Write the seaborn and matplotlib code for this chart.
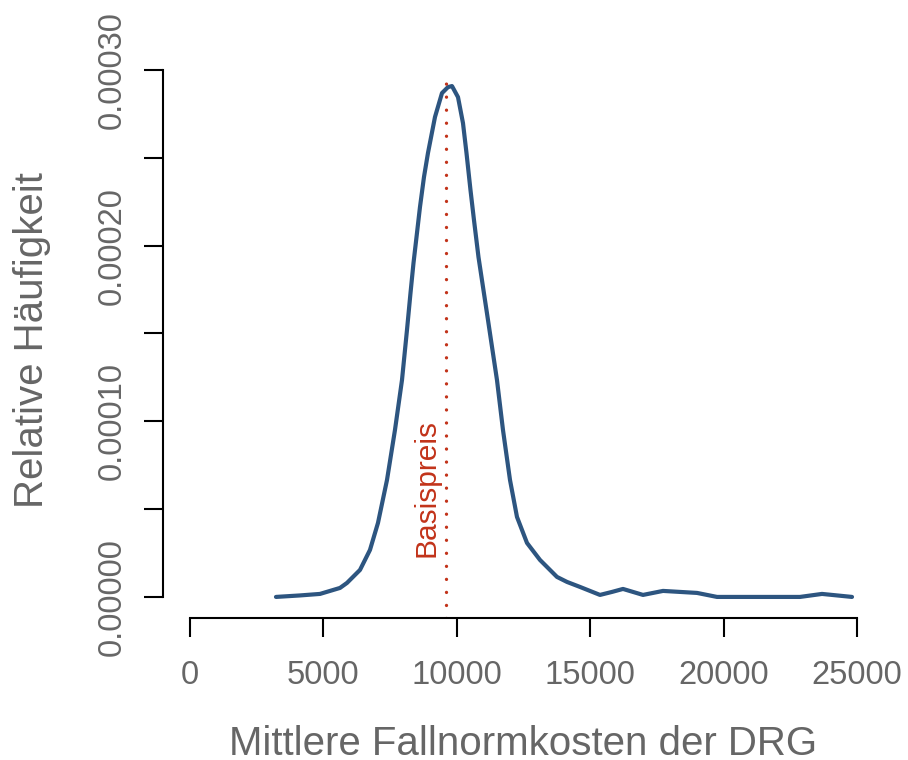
import numpy as np
import pandas as pd
import matplotlib
matplotlib.use('Agg')
import matplotlib.pyplot as plt
import seaborn as sns

# Dichtekurve: mittlere Fallnormkosten und relative Häufigkeit
kosten = [3223, 4123, 4872, 5622, 5884, 6372, 6746, 7046, 7384, 7683,
          7946, 8133, 8265, 8377, 8490, 8620, 8770, 8920, 9183, 9445,
          9670, 9820, 10045, 10232, 10363, 10513, 10644, 10813, 10982, 11169,
          11281, 11506, 11731, 11994, 12256, 12631, 13118, 13755, 14130, 14617,
          15367, 15817, 16229, 16979, 17729, 19003, 19753, 22863, 23688, 24812]
dichte_e5 = [0.0, 0.085, 0.171, 0.512, 0.797, 1.537, 2.675, 4.213, 6.660, 9.507,
             12.35, 15.20, 17.31, 19.01, 20.49, 22.20, 23.91, 25.28, 27.33, 28.69,
             29.03, 29.09, 28.46, 26.98, 25.28, 23.17, 21.46, 19.35, 17.65, 15.77,
             14.63, 12.35, 9.507, 6.660, 4.554, 3.074, 2.106, 1.139, 0.854, 0.569,
             0.114, 0.285, 0.455, 0.114, 0.342, 0.228, 0.0, 0.0, 0.171, 0.0]
basispreis = 9580

x_ticks = [0, 5000, 10000, 15000, 20000, 25000]
y_ticks = [0.0, 0.00005, 0.0001, 0.00015, 0.0002, 0.00025, 0.0003]
y_ticklabels = ['0.00000', '', '0.00010', '', '0.00020', '', '0.00030']

df = pd.DataFrame({'kosten': kosten, 'dichte': np.array(dichte_e5) * 1e-5})

sns.set_theme(style='white')
plt.rcParams['font.family'] = ['Liberation Sans', 'DejaVu Sans']

grau = '#666666'
blau = '#2D5580'
rot = '#C2331A'

fig = plt.figure(figsize=(9.08, 7.6), dpi=100)
ax = fig.add_axes([163.3 / 908, 142 / 760, 720.4 / 908, 569 / 760])

sns.lineplot(data=df, x='kosten', y='dichte', color=blau, linewidth=3,
             estimator=None, ax=ax)
ax.lines[0].set_solid_joinstyle('round')

ax.axvline(basispreis, ymin=0.0, ymax=0.954, color=rot, linewidth=2.4,
           linestyle=(0, (0.01, 3.9)), dash_capstyle='round')
ax.text(basispreis - 700, 0.0000228, 'Basispreis', rotation=90,
        ha='center', va='bottom', color=rot, fontsize=21.5)

ax.set_xlim(-1000, 26000)
ax.set_ylim(-0.000012, 0.000312)

for s in ['top', 'right']:
    ax.spines[s].set_visible(False)
ax.spines['left'].set_bounds(0, 0.0003)
ax.spines['bottom'].set_bounds(0, 25000)
for s in ['left', 'bottom']:
    ax.spines[s].set_color('black')
    ax.spines[s].set_linewidth(1.5)

ax.set_xticks(x_ticks)
ax.set_xticklabels([str(t) for t in x_ticks])
ax.set_yticks(y_ticks)
ax.set_yticklabels(y_ticklabels)

ax.tick_params(axis='both', direction='out', length=14, width=1.5,
               color='black', labelcolor=grau, labelsize=23.5)
ax.tick_params(axis='x', pad=16, bottom=True)
ax.tick_params(axis='y', pad=11.5, left=True, labelrotation=90)
for lbl in ax.get_yticklabels():
    lbl.set_va('center')

ax.set_xlabel('Mittlere Fallnormkosten der DRG', fontsize=29, color=grau)
ax.set_ylabel('Relative Häufigkeit', fontsize=29, color=grau)
ax.xaxis.label.set_va('baseline')
ax.xaxis.set_label_coords(0.5, -0.240)
ax.yaxis.set_label_coords(-0.156, 0.489)

fig.savefig('out.png', dpi=100)
